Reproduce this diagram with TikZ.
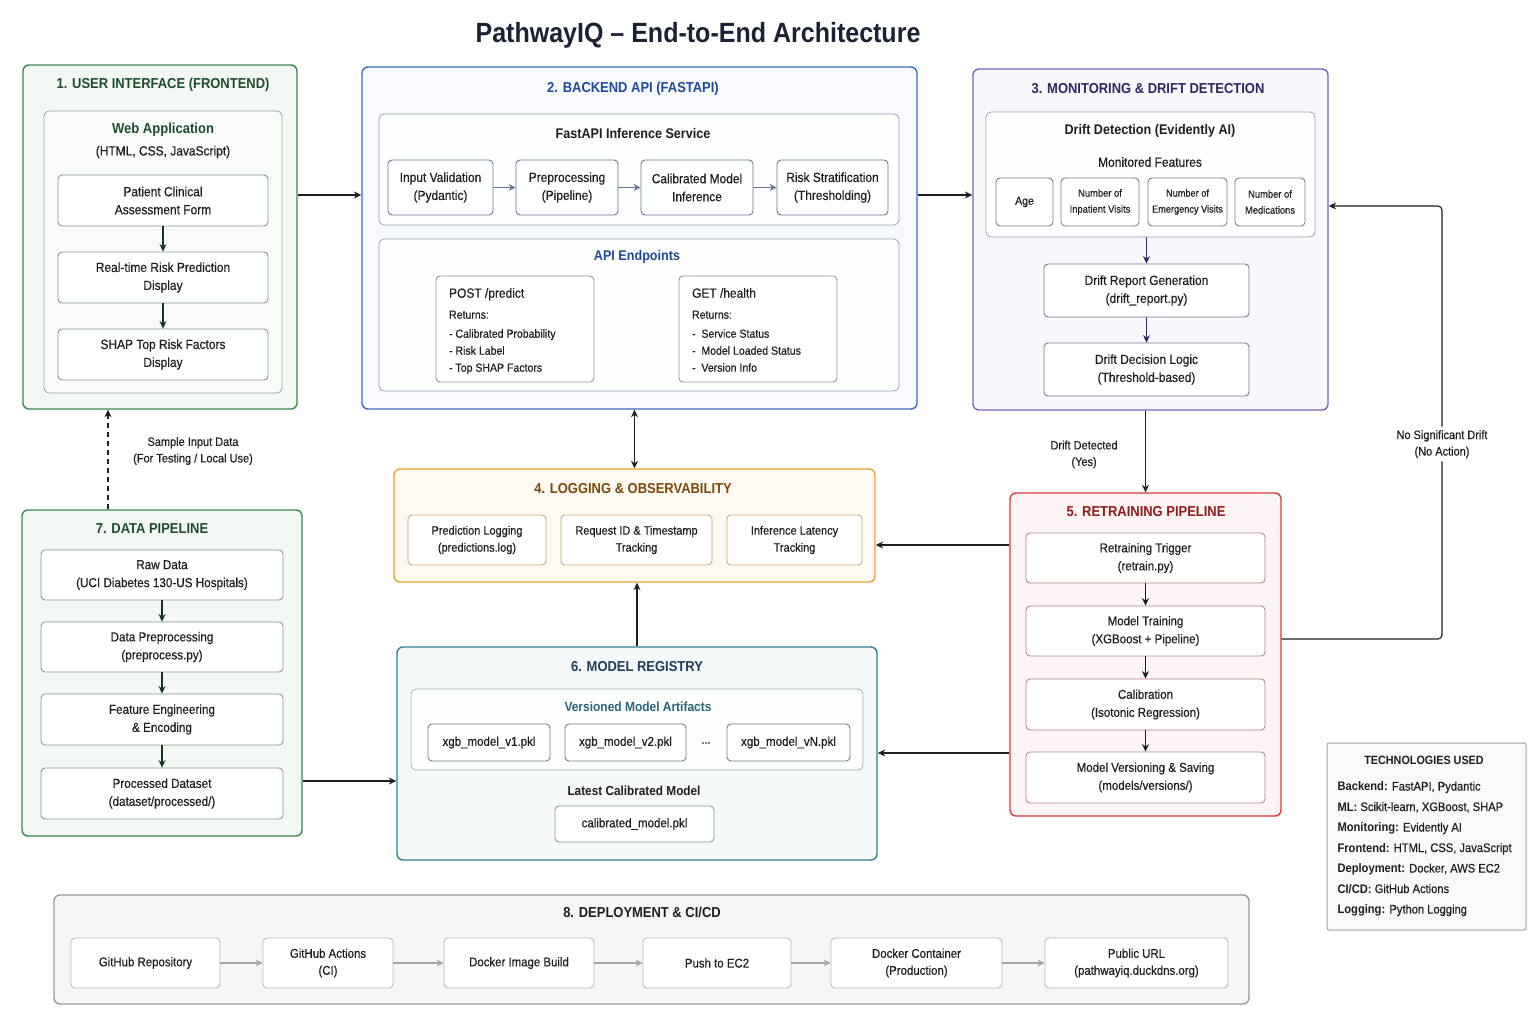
\documentclass[tikz,border=0pt]{standalone}
\usepackage{fontspec}
\setmainfont{Liberation Sans}[FakeStretch=0.9, UprightFeatures={FakeBold=0.35}]
\usepackage{xcolor}
\usepackage{tikz}
\usetikzlibrary{arrows.meta, positioning}
\definecolor{ink}{HTML}{1E1E1E}
\definecolor{titleink}{HTML}{1A2233}
\definecolor{uigreen}{HTML}{3C8A4E}
\definecolor{uidark}{HTML}{1D4D2C}
\definecolor{apiblue}{HTML}{3B6CC0}
\definecolor{apidark}{HTML}{1F4A99}
\definecolor{monpurple}{HTML}{7A62C0}
\definecolor{mondark}{HTML}{2C2862}
\definecolor{logorange}{HTML}{EAA534}
\definecolor{logdark}{HTML}{7B4A0A}
\definecolor{retred}{HTML}{D9393B}
\definecolor{retdark}{HTML}{8F1B1B}
\definecolor{regteal}{HTML}{2E8190}
\definecolor{regdark}{HTML}{1F3B5A}
\definecolor{depgray}{HTML}{9B9B9B}
\tikzset{
  spot/.style args={#1/#2/#3/#4}{at={({(#1+#3)/2},{(#2+#4)/2})}, minimum width={(#3)-(#1)}, minimum height={(#4)-(#2)}},
  zone/.style={rectangle, rounded corners=6pt, line width=1.4pt, inner sep=0pt},
  panel/.style={rectangle, rounded corners=5pt, line width=0.8pt, inner sep=0pt},
  card/.style={rectangle, rounded corners=4pt, line width=0.9pt, fill=white, inner sep=0pt, align=center, text=ink, font=\fontsize{13.3}{18}\selectfont},
  zonehead/.style={font=\bfseries\fontsize{14.4}{16}\selectfont},
  panelhead/.style={font=\bfseries\fontsize{14}{16}\selectfont, text=ink},
  note/.style={align=center, text=ink, font=\fontsize{12.2}{16.5}\selectfont},
  arr/.style={-{Stealth[length=7.5pt, width=7pt]}, line width=1.1pt, draw=ink},
  flow/.style={-{Stealth[length=7pt, width=7pt]}, line width=1.4pt, draw=gray!70},
}

\begin{document}
\begin{tikzpicture}[x=1pt, y=-1pt]
\fill[white] (0,0) rectangle (1536,1024);
\useasboundingbox (0,0) rectangle (1536,1024);
\node[font=\bfseries\fontsize{27.8}{30}\selectfont, text=titleink] (title) at (698,35) {PathwayIQ -- End-to-End Architecture};

% 1. user interface
\node[zone, draw=uigreen, fill=uigreen!6, spot=23/65/297/409] (ui) {};
\node[zonehead, text=uidark] (uit) at (163,85) {1. USER INTERFACE (FRONTEND)};
\node[panel, draw=uigreen!40!gray!70, fill=uigreen!3, spot=44/111/282/393] (web) {};
\node[panelhead, text=uidark, font=\bfseries\fontsize{14.5}{16}\selectfont] (webt) at (163,130) {Web Application};
\node[note, font=\fontsize{13.3}{15}\selectfont] (webs) at (163,152) {(HTML, CSS, JavaScript)};
\node[card, draw=uigreen!40!gray!80, spot=58/175/268/226] (form) {Patient Clinical\\Assessment Form};
\node[card, draw=uigreen!40!gray!80, spot=58/252/268/303] (pred) {Real-time Risk Prediction\\Display};
\node[card, draw=uigreen!40!gray!80, spot=58/329/268/380] (shap) {SHAP Top Risk Factors\\Display};
\draw[arr, draw=uidark!70!black] (form) -- (pred); \draw[arr, draw=uidark!70!black] (pred) -- (shap);

% 2. backend api
\node[zone, draw=apiblue, fill=apiblue!4, spot=362/67/917/409] (api) {};
\node[zonehead, text=apidark] (apit) at (633,89) {2. BACKEND API (FASTAPI)};
\node[panel, draw=apiblue!40!gray!70, fill=white!70!apiblue!2, spot=379/114/899/225] (svc) {};
\node[panelhead] (svct) at (633,133) {FastAPI Inference Service};
\node[card, draw=apiblue!40!gray, spot=388/160/493/215] (valid) {Input Validation\\(Pydantic)};
\node[card, draw=apiblue!40!gray, spot=516/160/618/215] (prep) {Preprocessing\\(Pipeline)};
\node[card, draw=apiblue!40!gray, spot=641/160/753/215] (infer) {Calibrated Model\\Inference};
\node[card, draw=apiblue!40!gray, spot=777/160/888/215] (strat) {Risk Stratification\\(Thresholding)};
\draw[flow, draw=apiblue!30!gray] (valid) -- (prep); \draw[flow, draw=apiblue!30!gray] (prep) -- (infer); \draw[flow, draw=apiblue!30!gray] (infer) -- (strat);
\node[panel, draw=apiblue!40!gray!70, fill=white!70!apiblue!2, spot=379/239/899/391] (endp) {};
\node[panelhead, text=apidark] (endpt) at (637,257) {API Endpoints};
\node[card, draw=apiblue!30!gray!80, spot=436/276/594/382] (post) {};
\node[anchor=north west, align=left, text=ink, font=\fontsize{11.7}{17}\selectfont] (postx) at ([xshift=10pt, yshift=-9pt]post.north west)
  {{\fontsize{13.3}{15}\selectfont POST /predict}\\[4pt]Returns:\\[2pt]- Calibrated Probability\\- Risk Label\\- Top SHAP Factors};
\node[card, draw=apiblue!30!gray!80, spot=679/276/837/382] (health) {};
\node[anchor=north west, align=left, text=ink, font=\fontsize{11.7}{17}\selectfont] (healthx) at ([xshift=10pt, yshift=-9pt]health.north west)
  {{\fontsize{13.3}{15}\selectfont GET /health}\\[4pt]Returns:\\[2pt]-\ \ Service Status\\-\ \ Model Loaded Status\\-\ \ Version Info};

% 3. monitoring
\node[zone, draw=monpurple, fill=monpurple!5, spot=973/69/1328/410] (mon) {};
\node[zonehead, text=mondark] (mont) at (1148,89) {3. MONITORING \& DRIFT DETECTION};
\node[panel, draw=monpurple!30!gray!70, fill=white!70!monpurple!3, spot=986/112/1315/237] (drift) {};
\node[panelhead] (driftt) at (1150,131) {Drift Detection (Evidently AI)};
\node[note, font=\fontsize{13.3}{15}\selectfont] (feat) at (1150,162) {Monitored Features};
\node[card, draw=monpurple!30!gray, font=\fontsize{11.7}{16}\selectfont, spot=996/178/1053/226] (age) {Age};
\node[card, draw=monpurple!30!gray, font=\fontsize{10.4}{16}\selectfont, spot=1061/178/1139/226] (inpat) {Number of\\Inpatient Visits};
\node[card, draw=monpurple!30!gray, font=\fontsize{10.2}{16}\selectfont, spot=1148/178/1227/226] (emerg) {Number of\\Emergency Visits};
\node[card, draw=monpurple!30!gray, font=\fontsize{10.4}{16}\selectfont, spot=1235/178/1305/226] (meds) {Number of\\Medications};
\node[card, draw=monpurple!30!gray, spot=1044/264/1249/317] (report) {Drift Report Generation\\(drift\_report.py)};
\node[card, draw=monpurple!30!gray, spot=1044/343/1249/396] (decide) {Drift Decision Logic\\(Threshold-based)};
\draw[arr, draw=mondark] (report.north |- drift.south) -- (report.north); \draw[arr, draw=mondark] (report) -- (decide);

% 4. logging
\node[zone, draw=logorange, fill=logorange!7, spot=394/469/875/582] (log) {};
\node[zonehead, text=logdark] (logt) at (633,489) {4. LOGGING \& OBSERVABILITY};
\node[card, draw=logorange!60!gray!80, font=\fontsize{12.2}{17}\selectfont, spot=408/515/546/565] (plog) {Prediction Logging\\(predictions.log)};
\node[card, draw=logorange!60!gray!80, font=\fontsize{12.2}{17}\selectfont, spot=561/515/712/565] (reqid) {Request ID \& Timestamp\\Tracking};
\node[card, draw=logorange!60!gray!80, font=\fontsize{12.2}{17}\selectfont, spot=727/515/862/565] (latency) {Inference Latency\\Tracking};

% 5. retraining
\node[zone, draw=retred, fill=retred!5, spot=1010/493/1281/816] (ret) {};
\node[zonehead, text=retdark] (rett) at (1146,512) {5. RETRAINING PIPELINE};
\node[card, draw=retred!35!gray!80, font=\fontsize{12.8}{18}\selectfont, spot=1026/533/1265/583] (trigger) {Retraining Trigger\\(retrain.py)};
\node[card, draw=retred!35!gray!80, font=\fontsize{12.8}{18}\selectfont, spot=1026/606/1265/656] (train) {Model Training\\(XGBoost + Pipeline)};
\node[card, draw=retred!35!gray!80, font=\fontsize{12.8}{18}\selectfont, spot=1026/679/1265/730] (calib) {Calibration\\(Isotonic Regression)};
\node[card, draw=retred!35!gray!80, font=\fontsize{12.8}{18}\selectfont, spot=1026/752/1265/803] (version) {Model Versioning \& Saving\\(models/versions/)};
\draw[arr] (trigger) -- (train); \draw[arr] (train) -- (calib); \draw[arr] (calib) -- (version);

% 6. model registry
\node[zone, draw=regteal, fill=regteal!5, spot=397/647/877/860] (reg) {};
\node[zonehead, text=regdark] (regt) at (637,667) {6. MODEL REGISTRY};
\node[panel, draw=regteal!30!gray!60, fill=white!70!regteal!3, spot=411/689/863/770] (arts) {};
\node[panelhead, text=regteal!60!regdark, font=\bfseries\fontsize{13.3}{15}\selectfont] (artst) at (638,707) {Versioned Model Artifacts};
\node[card, draw=regteal!20!gray, font=\fontsize{12.8}{15}\selectfont, spot=428/724/550/761] (mv1) {xgb\_model\_v1.pkl};
\node[card, draw=regteal!20!gray, font=\fontsize{12.8}{15}\selectfont, spot=565/724/686/761] (mv2) {xgb\_model\_v2.pkl};
\node[text=ink, font=\fontsize{12}{15}\selectfont] (dots) at (706,743) {...};
\node[card, draw=regteal!20!gray, font=\fontsize{12.8}{15}\selectfont, spot=727/724/850/761] (mvn) {xgb\_model\_vN.pkl};
\node[panelhead, font=\bfseries\fontsize{13.1}{15}\selectfont] (latest) at (634,791) {Latest Calibrated Model};
\node[card, draw=regteal!30!gray!80, font=\fontsize{12.8}{15}\selectfont, spot=555/806/714/842] (calmodel) {calibrated\_model.pkl};

% 7. data pipeline
\node[zone, draw=uigreen, fill=uigreen!6, spot=22/510/302/836] (data) {};
\node[zonehead, text=uidark] (datat) at (152,529) {7. DATA PIPELINE};
\node[card, draw=uigreen!40!gray!80, font=\fontsize{13}{18}\selectfont, spot=41/550/283/600] (raw) {Raw Data\\(UCI Diabetes 130-US Hospitals)};
\node[card, draw=uigreen!40!gray!80, font=\fontsize{13}{18}\selectfont, spot=41/622/283/672] (clean) {Data Preprocessing\\(preprocess.py)};
\node[card, draw=uigreen!40!gray!80, font=\fontsize{13}{18}\selectfont, spot=41/694/283/745] (fe) {Feature Engineering\\\& Encoding};
\node[card, draw=uigreen!40!gray!80, font=\fontsize{13}{18}\selectfont, spot=41/768/283/819] (processed) {Processed Dataset\\(dataset/processed/)};
\draw[arr, draw=uidark!70!black] (raw) -- (clean); \draw[arr, draw=uidark!70!black] (clean) -- (fe); \draw[arr, draw=uidark!70!black] (fe) -- (processed);

% 8. deployment
\node[zone, draw=depgray, fill=gray!7, spot=54/895/1249/1004] (dep) {};
\node[zonehead, text=ink] (dept) at (642,912) {8. DEPLOYMENT \& CI/CD};
\node[card, draw=gray!55, font=\fontsize{12.7}{17}\selectfont, spot=71/938/220/988] (repo) {GitHub Repository};
\node[card, draw=gray!55, font=\fontsize{12.7}{17}\selectfont, spot=263/938/393/988] (ci) {GitHub Actions\\(CI)};
\node[card, draw=gray!55, font=\fontsize{12.7}{17}\selectfont, spot=444/938/594/988] (build) {Docker Image Build};
\node[card, draw=gray!55, font=\fontsize{12.7}{17}\selectfont, spot=643/938/791/988] (push) {Push to EC2};
\node[card, draw=gray!55, font=\fontsize{12.7}{17}\selectfont, spot=831/938/1002/988] (prod) {Docker Container\\(Production)};
\node[card, draw=gray!55, font=\fontsize{12.7}{17}\selectfont, spot=1045/938/1228/988] (url) {Public URL\\(pathwayiq.duckdns.org)};
\draw[flow] (repo) -- (ci); \draw[flow] (ci) -- (build); \draw[flow] (build) -- (push); \draw[flow] (push) -- (prod); \draw[flow] (prod) -- (url);

% technologies
\node[rectangle, rounded corners=2pt, draw=gray!75, line width=1pt, fill=gray!5, inner sep=0pt, spot=1327/743/1526/930] (tech) {};
\node[text=ink, font=\bfseries\fontsize{12}{14}\selectfont] (techt) at (1424,760) {TECHNOLOGIES USED};
\node[anchor=north west, align=left, text=ink, font=\fontsize{12.4}{20.5}\selectfont] (techl) at (1334,778)
  {\textbf{Backend:} FastAPI, Pydantic\\\textbf{ML:} Scikit-learn, XGBoost, SHAP\\\textbf{Monitoring:} Evidently AI\\\textbf{Frontend:} HTML, CSS, JavaScript\\\textbf{Deployment:} Docker, AWS EC2\\\textbf{CI/CD:} GitHub Actions\\\textbf{Logging:} Python Logging};

% connectors between sections
\coordinate (row1) at (0,195);
\coordinate (row2) at (0,545);
\coordinate (row3) at (0,753);
\coordinate (row4) at (0,781);
\coordinate (row5) at (0,639);
\coordinate (sample) at (108,0);
\coordinate (nodrift) at (1442,206);
\draw[arr] (ui.east |- row1) -- (api.west |- row1);
\draw[arr] (api.east |- row1) -- (mon.west |- row1);
\draw[arr, {Stealth[length=7.5pt, width=7pt]}-{Stealth[length=7.5pt, width=7pt]}] (api.south -| log.north) -- (log.north);
\draw[arr] (reg.north) -- (log.south -| reg.north);
\draw[arr] (ret.west |- row2) -- (log.east |- row2);
\draw[arr] (ret.west |- row3) -- (reg.east |- row3);
\draw[arr] (data.east |- row4) -- (reg.west |- row4);
\draw[arr, dash pattern=on 5pt off 4pt] (data.north -| sample) -- (ui.south -| sample);
\node[note] (samplelbl) at (193,451) {Sample Input Data\\(For Testing / Local Use)};
\draw[arr] (ret.north |- mon.south) -- node[note, left=24pt, yshift=-3pt] {Drift Detected\\(Yes)} (ret.north);
\draw[arr, rounded corners=4pt] (ret.east |- row5) -| node[note, fill=white, pos=0.725] {No Significant Drift\\(No Action)} (nodrift) -- (mon.east |- nodrift);
\end{tikzpicture}
\end{document}
